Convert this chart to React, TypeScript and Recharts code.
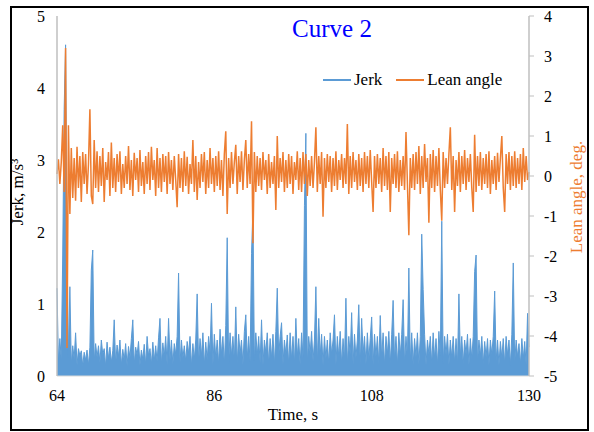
import React from "react";
import { ComposedChart, Area, Line, XAxis, YAxis } from "recharts";

const T0 = 64;
const DT = 0.2;

const xTicks = [64, 86, 108, 130];
const leftTicks = [0, 1, 2, 3, 4, 5];
const rightTicks = [-5, -4, -3, -2, -1, 0, 1, 2, 3, 4];

const jerk = [
  1.22, 0.18, 0.52, 0.22, 1.68, 3.7, 4.6, 1.82, 0.25, 1.24,
  0.16, 0.42, 0.24, 0.6, 0.15, 0.38, 0.28, 0.35, 0.14, 0.33,
  0.22, 0.36, 0.15, 0.4, 1.47, 1.75, 0.2, 0.45, 0.26, 0.42,
  0.18, 0.5, 0.3, 0.38, 0.13, 0.47, 0.24, 0.4, 0.19, 0.35,
  0.78, 0.16, 0.43, 0.27, 0.5, 0.15, 0.37, 0.22, 0.45, 0.14,
  0.41, 0.25, 0.52, 0.78, 0.16, 0.4, 0.29, 0.48, 0.15, 0.36,
  0.23, 0.44, 0.15, 0.55, 0.28, 0.38, 0.16, 0.47, 0.21, 0.42,
  0.2, 0.53, 0.8, 0.16, 0.46, 0.27, 0.55, 0.15, 0.8, 0.22,
  0.5, 0.16, 0.45, 0.3, 0.55, 1.43, 0.18, 0.5, 0.25, 0.42,
  0.2, 0.48, 0.31, 0.55, 0.14, 0.45, 0.23, 0.5, 1.14, 0.17,
  0.52, 0.28, 0.6, 0.15, 0.47, 0.22, 0.55, 0.32, 1.01, 0.15,
  0.58, 0.25, 0.5, 0.16, 0.65, 0.3, 0.55, 0.15, 0.7, 1.92,
  0.18, 0.6, 0.28, 0.55, 0.2, 0.96, 0.16, 0.58, 0.31, 0.5,
  0.15, 0.62, 0.85, 0.24, 0.55, 0.2, 1.7, 2.33, 0.22, 0.6,
  0.29, 0.55, 0.18, 0.78, 0.15, 0.5, 0.32, 0.6, 0.16, 0.52,
  0.25, 0.58, 0.15, 0.62, 1.22, 0.28, 0.55, 0.74, 0.16, 0.5,
  0.3, 0.57, 0.15, 0.6, 0.23, 0.55, 0.16, 0.8, 0.27, 0.52,
  0.15, 0.6, 0.25, 2.37, 3.37, 0.18, 0.55, 0.31, 0.62, 0.2,
  0.5, 1.24, 0.16, 0.8, 0.28, 0.58, 0.15, 0.55, 0.24, 0.5,
  0.16, 0.6, 0.3, 0.5, 0.85, 0.15, 0.55, 0.26, 0.62, 0.16,
  0.52, 0.22, 1.08, 0.15, 0.55, 0.29, 0.88, 0.16, 0.58, 0.25,
  0.5, 0.99, 0.15, 0.8, 0.31, 0.55, 0.16, 0.6, 0.23, 0.52,
  0.82, 0.15, 0.58, 0.27, 0.55, 0.16, 0.84, 0.24, 0.6, 0.15,
  0.55, 0.3, 0.62, 0.16, 0.58, 1.05, 0.22, 0.55, 0.15, 0.6,
  0.28, 0.58, 1.06, 0.16, 0.55, 0.25, 1.5, 0.2, 0.6, 0.15,
  0.52, 0.26, 0.6, 0.16, 0.55, 1.97, 1.2, 0.58, 0.15, 0.5,
  0.3, 0.55, 0.16, 0.6, 0.24, 0.52, 0.15, 0.62, 0.28, 2.15,
  0.18, 0.55, 0.29, 0.58, 0.15, 0.5, 0.25, 0.55, 0.18, 0.52,
  0.15, 1.14, 0.27, 0.55, 0.16, 0.5, 0.3, 0.58, 0.15, 0.52,
  0.24, 0.55, 1.45, 1.68, 0.18, 0.5, 0.28, 0.55, 0.16, 0.48,
  0.26, 0.52, 0.15, 0.5, 0.3, 0.55, 1.18, 0.2, 0.5, 0.15,
  0.48, 0.25, 0.52, 0.16, 0.55, 0.29, 0.5, 0.15, 0.58, 1.57,
  0.18, 0.5, 0.27, 0.45, 0.16, 0.52, 0.24, 0.48, 0.15, 0.87,
  0.4,
];

const lean = [
  0.05, 0.42, -0.2, 0.35, 1.27, -0.4, 3.2, -4.3, 1.27, -0.95,
  0.7, -0.55, 0.45, -0.62, 0.73, -0.3, 0.5, -0.65, 0.6, -0.2,
  0.55, -0.45, 0.3, 1.67, -0.5, -0.7, 0.9, -0.3, 0.62, -0.4,
  0.5, -0.25, 0.7, -0.65, 0.35, -0.1, 0.6, -0.5, 0.84, -0.3,
  0.45, -0.4, 0.55, -0.15, 0.62, -0.45, 0.3, -0.3, 0.5, -0.2,
  0.75, -0.35, 0.4, -0.5, 0.58, -0.1, 0.45, -0.4, 0.65, -0.25,
  0.35, -0.45, 0.5, -0.2, 0.6, -0.35, 0.73, -0.1, 0.4, -0.5,
  0.7, -0.3, 0.45, -0.4, 0.55, -0.15, 0.5, -0.45, 0.6, -0.2,
  0.4, -0.35, 0.5, -0.1, -0.78, 0.55, -0.3, 0.45, -0.4, 0.62,
  -0.25, 0.48, -0.45, 0.3, -0.2, 0.9, -0.4, 0.5, -0.6, 0.35,
  -0.3, 0.55, -0.15, 0.6, -0.45, 0.4, -0.3, 0.7, -0.2, 0.45,
  -0.4, 0.5, -0.25, 0.62, -0.35, 0.4, -0.5, 0.55, 1.12, -0.95,
  0.45, -0.3, 0.6, -0.2, 0.35, 0.78, -0.45, 0.5, -0.15, 0.62,
  -0.35, 0.4, 0.9, -0.3, 0.55, -0.2, 1.37, -1.68, 0.6, -0.4,
  0.5, -0.25, 0.45, -0.35, 0.6, -0.1, 0.4, -0.45, 0.55, -0.3,
  0.35, -0.2, 0.5, -0.85, 1.0, -0.3, 0.45, -0.15, 0.6, -0.4,
  0.4, -0.3, 0.55, -0.2, 0.5, -0.45, 0.35, -0.1, 0.62, -0.35,
  0.45, -0.4, 0.6, -0.2, 0.55, -0.5, 0.4, -0.25, 0.5, -0.3,
  0.35, 1.22, -0.4, 0.5, -0.2, 0.6, -1.02, 0.45, -0.3, 0.55,
  -0.15, 0.5, -0.4, 0.45, -0.25, 0.62, -0.35, 0.4, -0.1, 0.55,
  -0.3, 0.45, -0.2, 1.3, -0.45, 0.5, -0.3, 0.6, -0.15, 0.4,
  -0.35, 0.55, -0.25, 0.45, -0.4, 0.6, -0.2, 0.5, -0.3, 0.65,
  -0.15, -0.9, 0.5, -0.3, 0.55, -0.2, 0.45, -0.4, 0.7, -0.25,
  0.5, -0.35, 0.6, -0.9, 0.45, -0.2, 0.55, -0.3, 0.62, -0.4,
  0.4, -0.25, 0.5, -0.35, 1.1, -0.2, -1.48, 0.45, -0.3, 0.55,
  -0.35, 0.6, -0.2, 0.75, -0.45, 0.5, -0.3, 0.8, -0.15, 0.45,
  -1.17, 0.55, -0.3, 0.65, -0.4, 0.5, -0.25, 0.7, -0.35, -1.12,
  0.6, -0.3, 0.45, -0.2, 0.55, 1.22, -0.35, 0.5, -0.9, 0.4,
  -0.25, 0.6, -0.4, 0.5, -0.2, 0.65, -0.35, 0.45, -0.15, 0.55,
  -0.3, -0.9, 1.03, -0.4, 0.5, -0.25, 0.6, -0.35, 0.45, -0.2,
  0.55, -0.3, 0.62, -0.45, 0.4, -0.2, 0.5, -0.35, 0.58, -0.15,
  0.45, 1.0, -0.3, -0.9, 0.55, -0.2, 0.6, -0.35, 0.5, -0.25,
  0.62, -0.3, 0.45, -0.2, 0.55, -0.35, 0.7, -0.15, 0.5, -0.1,
  0.1,
];

const data = jerk.map((j, i) => ({
  t: +(T0 + i * DT).toFixed(1),
  jerk: j,
  lean: lean[i],
}));

const BLUE = "#5B9BD5";
const ORANGE = "#ED7D31";
const FONT = '"Liberation Serif", "Times New Roman", serif';

export default function App() {
  return (
    <div style={{ position: "absolute", left: 0, top: 0, width: 594, height: 432, background: "#fff", fontFamily: FONT }}>
      <div
        style={{
          position: "absolute",
          left: 10,
          top: 6,
          width: 579,
          height: 425,
          border: "2px solid #000",
          boxSizing: "border-box",
        }}
      />
      <div style={{ position: "absolute", left: 0, top: 0 }}>
        <ComposedChart
          width={594}
          height={432}
          data={data}
          margin={{ top: 16, right: 20, bottom: 26, left: 17 }}
        >
          <XAxis
            dataKey="t"
            type="number"
            domain={[64, 130]}
            ticks={xTicks}
            tickLine={false}
            tickSize={0}
            tickMargin={14}
            axisLine={{ stroke: "#d9d9d9", strokeWidth: 1 }}
            tick={{ fill: "#000", fontSize: 16, fontFamily: FONT }}
            height={30}
            interval={0}
          />
          <YAxis
            yAxisId="left"
            orientation="left"
            domain={[0, 5]}
            ticks={leftTicks}
            tickLine={false}
            tickSize={0}
            tickMargin={12}
            axisLine={{ stroke: "#bfbfbf", strokeWidth: 1.5 }}
            tick={{ fill: "#000", fontSize: 16, fontFamily: FONT }}
            width={40}
            interval={0}
          />
          <YAxis
            yAxisId="right"
            orientation="right"
            domain={[-5, 4]}
            ticks={rightTicks}
            tickLine={{ stroke: "#bfbfbf" }}
            tickSize={5}
            tickMargin={10}
            axisLine={{ stroke: "#bfbfbf", strokeWidth: 1.5 }}
            tick={{ fill: "#000", fontSize: 16, fontFamily: FONT, textAnchor: "start" }}
            width={45}
            interval={0}
          />
          <Area
            yAxisId="left"
            type="linear"
            dataKey="jerk"
            stroke={BLUE}
            strokeWidth={1}
            fill={BLUE}
            fillOpacity={1}
            dot={false}
            activeDot={false}
            isAnimationActive={false}
          />
          <Line
            yAxisId="right"
            type="linear"
            dataKey="lean"
            stroke={ORANGE}
            strokeWidth={1.5}
            dot={false}
            activeDot={false}
            isAnimationActive={false}
          />
        </ComposedChart>
      </div>
      <div
        style={{
          position: "absolute",
          left: 232,
          top: 14,
          width: 200,
          textAlign: "center",
          fontSize: 25,
          color: "#0000FF",
          lineHeight: "30px",
        }}
      >
        Curve 2
      </div>
      <div
        style={{
          position: "absolute",
          left: 323,
          top: 69,
          display: "flex",
          alignItems: "center",
          fontSize: 17,
          color: "#000",
          lineHeight: "22px",
          whiteSpace: "nowrap",
        }}
      >
        <span style={{ display: "inline-block", width: 28, height: 2, background: BLUE, marginRight: 3 }} />
        <span>Jerk</span>
        <span style={{ display: "inline-block", width: 28, height: 2, background: ORANGE, marginLeft: 14, marginRight: 3 }} />
        <span>Lean angle</span>
      </div>
      <div
        style={{
          position: "absolute",
          left: 193,
          top: 404,
          width: 200,
          textAlign: "center",
          fontSize: 17,
          color: "#000",
          lineHeight: "22px",
        }}
      >
        Time, s
      </div>
      <div
        style={{
          position: "absolute",
          left: 18 - 100,
          top: 192 - 11,
          width: 200,
          textAlign: "center",
          fontSize: 17,
          color: "#000",
          lineHeight: "22px",
          transform: "rotate(-90deg)",
        }}
      >
        Jerk, m/s³
      </div>
      <div
        style={{
          position: "absolute",
          left: 577 - 100,
          top: 197 - 11,
          width: 200,
          textAlign: "center",
          fontSize: 17,
          color: ORANGE,
          lineHeight: "22px",
          transform: "rotate(-90deg)",
        }}
      >
        Lean angle, deg.
      </div>
    </div>
  );
}
